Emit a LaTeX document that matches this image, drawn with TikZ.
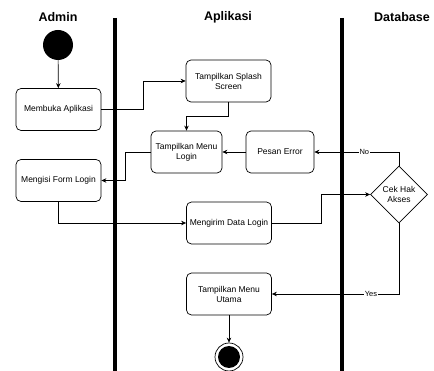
\documentclass[tikz,border=0pt]{standalone}
\usepackage{fontspec}
\setmainfont{Liberation Sans}
\usetikzlibrary{arrows.meta,shapes.geometric}
\tikzset{
  act/.style={draw, rounded corners=5pt, align=center, minimum width=85pt, minimum height=42pt, inner sep=1pt, font=\fontsize{8.5}{10}\selectfont, line width=0.7pt},
  lane/.style={line width=3.6pt},
  lanehead/.style={font=\bfseries\fontsize{12.5}{14}\selectfont},
  flow/.style={line width=0.7pt, -{Stealth[length=5pt,width=4.5pt]}},
  guard/.style={fill=white, inner sep=0.5pt, font=\fontsize{7.5}{8}\selectfont}
}
\begin{document}
\begin{tikzpicture}[x=1pt, y=-1pt]
\useasboundingbox (0,0) rectangle (434,371);
\node[lanehead] (hadm) at (58,17){Admin};
\node[lanehead] (hapl) at (228,17){Aplikasi};
\node[lanehead] (hdb) at (402,17){Database};
\draw[lane] (115,18) -- (115,371);
\draw[lane] (342,18) -- (342,371);
\node[circle, fill, minimum size=30pt, inner sep=0] (start) at (58,45){};
\node[act] (buka) at (58.5,109.5){Membuka Aplikasi};
\node[act] (form) at (58.5,180.5){Mengisi Form Login};
\node[act] (splash) at (228.5,81){Tampilkan Splash\\Screen};
\node[act, minimum width=71pt] (mlogin) at (186.5,152){Tampilkan Menu\\Login};
\node[act, minimum width=68pt] (error) at (280,152){Pesan Error};
\node[act] (kirim) at (229,223){Mengirim Data Login};
\node[act] (utama) at (229,294){Tampilkan Menu\\Utama};
\node[diamond, draw, line width=0.7pt, align=center, minimum width=57pt, minimum height=57pt, inner sep=0, font=\fontsize{8.5}{10}\selectfont] (cek) at (399,194.5){Cek Hak\\Akses};
\node[circle, draw, line width=0.7pt, minimum size=28pt, inner sep=0] (end) at (229,357){};
\node[circle, fill, minimum size=22pt, inner sep=0] (endin) at (end){};
\draw[flow] (start) -- (buka);
\draw[flow] (buka.east) -- ++(42,0) |- (splash.west);
\draw[flow] (splash.south) -- ++(0,14) -| (mlogin.north);
\draw[flow] (error.west) -- (mlogin.east);
\draw[flow] (mlogin.west) -- ++(-25,0) |- (form.east);
\draw[flow] (form.south) |- (kirim.west);
\draw[flow] (kirim.east) -- ++(49,0) |- (cek.west);
\draw[flow] (cek.north) |- (error.east) node[guard, pos=0.705]{No};
\draw[flow] (cek.south) |- (utama.east) node[guard, pos=0.61]{Yes};
\draw[flow] (utama) -- (end);
\end{tikzpicture}
\end{document}
